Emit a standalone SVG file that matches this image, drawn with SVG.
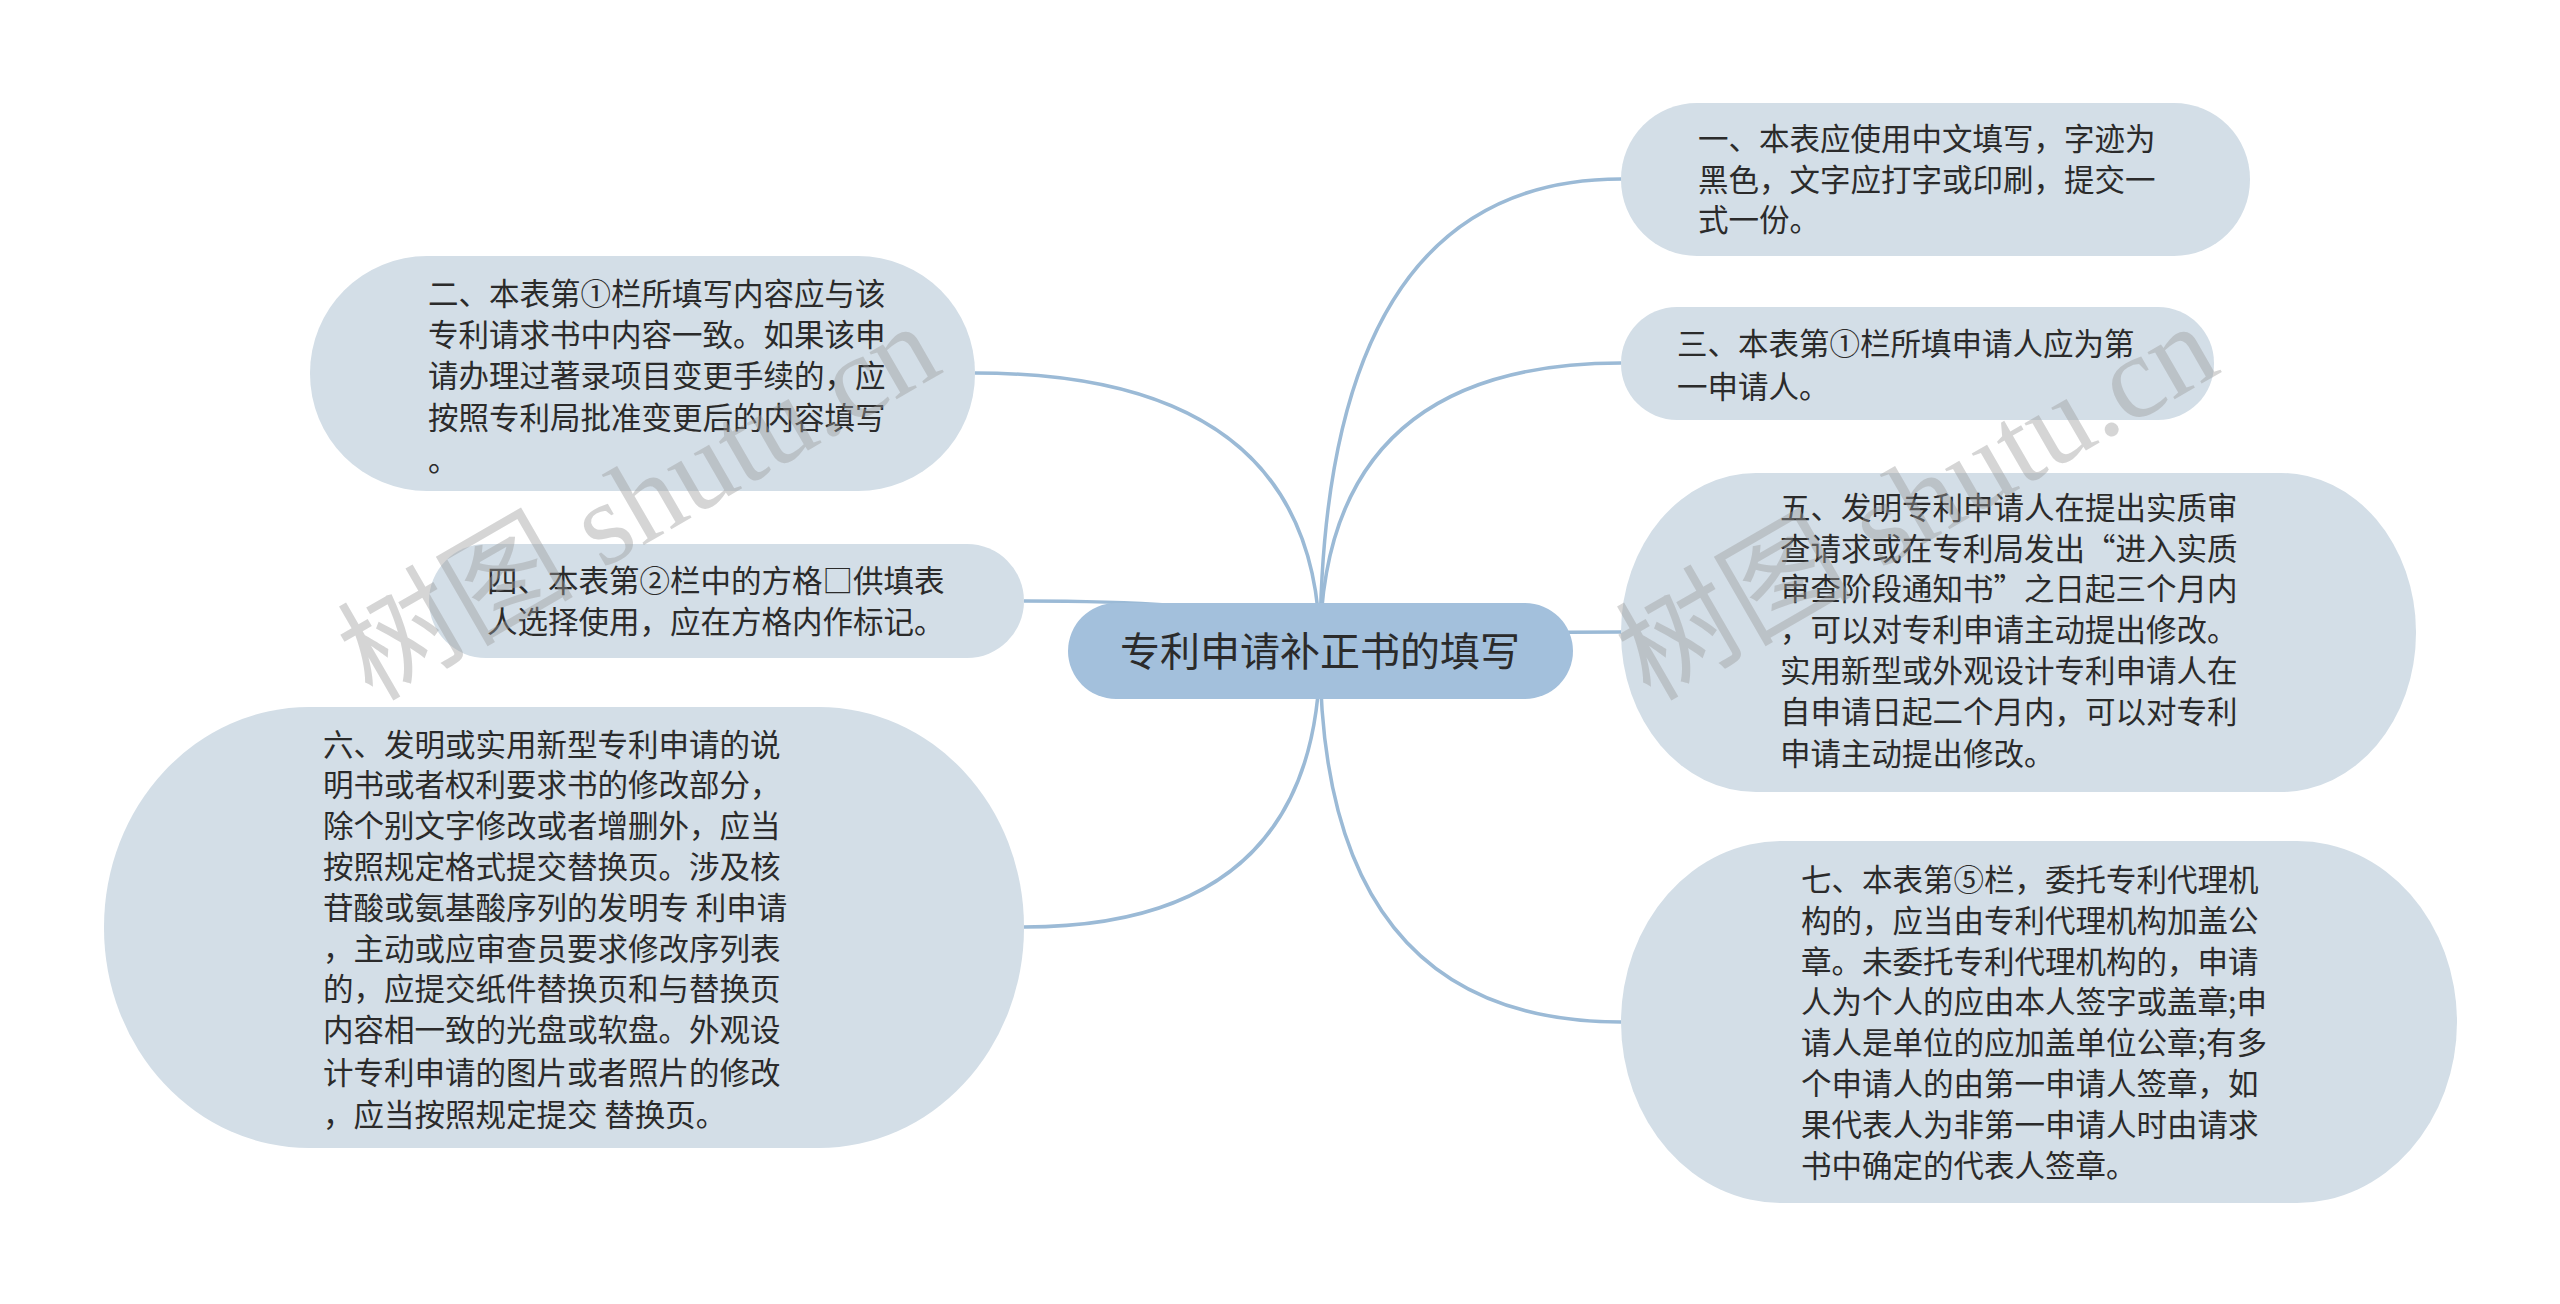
<svg xmlns="http://www.w3.org/2000/svg" width="2560" height="1304" viewBox="0 0 2560 1304">
<style>
.bg{fill:#ffffff}
.edge{fill:none;stroke:#9bbad6;stroke-width:3.5}
.root{fill:#a3c0dc}
.leaf{fill:#d3dee7}
.t{font-family:"Noto Sans CJK SC","Noto Sans",sans-serif;font-size:30.5px;fill:#2b2b2b}
.rt{font-family:"Noto Sans CJK SC","Noto Sans",sans-serif;font-size:40px;fill:#2b2b2b;text-anchor:middle}
.wm{font-family:"Liberation Serif","Noto Sans CJK SC",serif;font-size:118px;fill:#9a9a9a;fill-opacity:0.42}
</style>
<rect class="bg" x="0" y="0" width="2560" height="1304"/>
<g id="connectors">
<path class="edge" d="M1320 651 Q1320 179 1621 179"/>
<path class="edge" d="M1320 651 Q1320 363 1621 363"/>
<path class="edge" d="M1320 651 Q1320 632 1621 632"/>
<path class="edge" d="M1320 651 Q1320 1022 1621 1022"/>
<path class="edge" d="M1320 651 Q1320 373 975 373"/>
<path class="edge" d="M1320 651 Q1320 601 1024 601"/>
<path class="edge" d="M1320 651 Q1320 927 1024 927"/>
</g>
<g id="root">
<rect class="root" x="1068" y="603" width="505" height="96" rx="48" ry="48"/>
<text class="rt" x="1320" y="666">专利申请补正书的填写</text>
</g>
<g id="n1">
<rect class="leaf" x="1621" y="103" width="629" height="153" rx="76" ry="76"/>
<text class="t"><tspan x="1698" y="150">一、本表应使用中文填写，字迹为</tspan><tspan x="1698" y="191">黑色，文字应打字或印刷，提交一</tspan><tspan x="1698" y="231">式一份。</tspan></text>
</g>
<g id="n3">
<rect class="leaf" x="1621" y="307" width="593" height="113" rx="56" ry="56"/>
<text class="t"><tspan x="1677" y="355">三、本表第①栏所填申请人应为第</tspan><tspan x="1677" y="398">一申请人。</tspan></text>
</g>
<g id="n5">
<rect class="leaf" x="1621" y="473" width="795" height="319" rx="135" ry="159"/>
<text class="t"><tspan x="1780" y="519">五、发明专利申请人在提出实质审</tspan><tspan x="1780" y="560">查请求或在专利局发出“进入实质</tspan><tspan x="1780" y="600">审查阶段通知书”之日起三个月内</tspan><tspan x="1780" y="641">，可以对专利申请主动提出修改。</tspan><tspan x="1780" y="682">实用新型或外观设计专利申请人在</tspan><tspan x="1780" y="723">自申请日起二个月内，可以对专利</tspan><tspan x="1780" y="765">申请主动提出修改。</tspan></text>
</g>
<g id="n7">
<rect class="leaf" x="1621" y="841" width="836" height="362" rx="160" ry="181"/>
<text class="t"><tspan x="1801" y="891">七、本表第⑤栏，委托专利代理机</tspan><tspan x="1801" y="932">构的，应当由专利代理机构加盖公</tspan><tspan x="1801" y="973">章。未委托专利代理机构的，申请</tspan><tspan x="1801" y="1013">人为个人的应由本人签字或盖章;申</tspan><tspan x="1801" y="1054">请人是单位的应加盖单位公章;有多</tspan><tspan x="1801" y="1095">个申请人的由第一申请人签章，如</tspan><tspan x="1801" y="1136">果代表人为非第一申请人时由请求</tspan><tspan x="1801" y="1177">书中确定的代表人签章。</tspan></text>
</g>
<g id="n2">
<rect class="leaf" x="310" y="256" width="665" height="235" rx="117" ry="117"/>
<text class="t"><tspan x="428" y="305">二、本表第①栏所填写内容应与该</tspan><tspan x="428" y="346">专利请求书中内容一致。如果该申</tspan><tspan x="428" y="387">请办理过著录项目变更手续的，应</tspan><tspan x="428" y="429">按照专利局批准变更后的内容填写</tspan><tspan x="428" y="471">。</tspan></text>
</g>
<g id="n4">
<rect class="leaf" x="429" y="544" width="595" height="114" rx="57" ry="57"/>
<text class="t"><tspan x="487" y="592">四、本表第②栏中的方格□供填表</tspan><tspan x="487" y="633">人选择使用，应在方格内作标记。</tspan></text>
</g>
<g id="n6">
<rect class="leaf" x="104" y="707" width="920" height="441" rx="205" ry="220"/>
<text class="t"><tspan x="323" y="756">六、发明或实用新型专利申请的说</tspan><tspan x="323" y="796">明书或者权利要求书的修改部分，</tspan><tspan x="323" y="837">除个别文字修改或者增删外，应当</tspan><tspan x="323" y="878">按照规定格式提交替换页。涉及核</tspan><tspan x="323" y="919">苷酸或氨基酸序列的发明专 利申请</tspan><tspan x="323" y="960">，主动或应审查员要求修改序列表</tspan><tspan x="323" y="1000">的，应提交纸件替换页和与替换页</tspan><tspan x="323" y="1041">内容相一致的光盘或软盘。外观设</tspan><tspan x="323" y="1084">计专利申请的图片或者照片的修改</tspan><tspan x="323" y="1126">，应当按照规定提交 替换页。</tspan></text>
</g>
<g id="watermark">
<text class="wm" transform="translate(372 702) rotate(-30)">树图 shutu.cn</text>
<text class="wm" transform="translate(1650 702) rotate(-30)">树图 shutu.cn</text>
</g>
</svg>
